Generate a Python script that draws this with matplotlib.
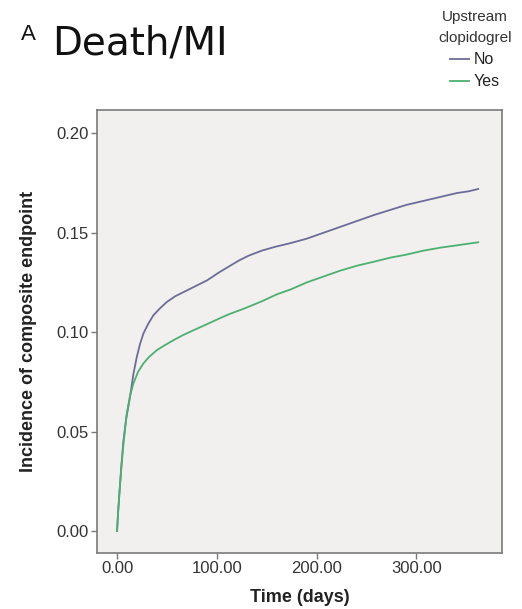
import matplotlib
matplotlib.use('Agg')
import matplotlib.pyplot as plt

# 時間(日)と発生率の読み取り値 (Upstream clopidogrel: No)
days_no = [0, 1, 2.5, 4.5, 6.3, 9, 13, 16.4, 19.8, 23, 26.4, 31, 36.4, 43, 49.9, 58, 70, 80, 90,
           103, 112, 122, 132, 145, 159, 174, 190, 207, 224, 241, 258, 274, 290, 307, 324, 341, 352, 362]
rate_no = [0.0, 0.009, 0.020, 0.034, 0.045, 0.056, 0.0675, 0.079, 0.0876, 0.094, 0.0993, 0.104,
           0.1085, 0.112, 0.1152, 0.118, 0.121, 0.1235, 0.126, 0.1303, 0.133, 0.136, 0.1385, 0.141,
           0.143, 0.1448, 0.147, 0.150, 0.153, 0.156, 0.159, 0.1615, 0.164, 0.166, 0.168, 0.170,
           0.1708, 0.172]

# (Upstream clopidogrel: Yes)
days_yes = [0, 1, 2.5, 4.5, 6.5, 9.7, 13, 16.4, 21, 26.4, 32, 39.9, 48, 56.6, 66, 76.7, 90, 103,
            112, 128, 145, 160, 174, 190, 207, 224, 241, 258, 274, 290, 307, 324, 341, 352, 362]
rate_yes = [0.0, 0.009, 0.020, 0.033, 0.044, 0.059, 0.068, 0.0742, 0.080, 0.0843, 0.0875, 0.091,
            0.0935, 0.096, 0.0985, 0.101, 0.104, 0.107, 0.109, 0.112, 0.1155, 0.119, 0.1215,
            0.125, 0.128, 0.131, 0.1335, 0.1355, 0.1375, 0.139, 0.141, 0.1425, 0.1437, 0.1445, 0.1452]

x_ticks = [0, 100, 200, 300]
y_ticks = [0.00, 0.05, 0.10, 0.15, 0.20]

color_no = '#6c6c98'
color_yes = '#4cb070'
grey = '#7a7a7a'

plt.rcParams['font.family'] = ['Liberation Sans', 'DejaVu Sans']

fig = plt.figure(figsize=(5.22, 6.09), dpi=100)
ax = fig.add_axes([0.186, 0.092, 0.776, 0.727])
ax.set_facecolor('#f1f0ee')

ax.plot(days_no, rate_no, color=color_no, lw=1.3, label='No')
ax.plot(days_yes, rate_yes, color=color_yes, lw=1.3, label='Yes')

ax.set_xlim(-20, 386)
ax.set_ylim(-0.011, 0.2116)
ax.set_xticks(x_ticks)
ax.set_xticklabels(['%.2f' % v for v in x_ticks])
ax.set_yticks(y_ticks)
ax.set_yticklabels(['%.2f' % v for v in y_ticks])

for s in ax.spines.values():
    s.set_color(grey)
    s.set_linewidth(1.2)
ax.tick_params(direction='out', length=4, width=1, color=grey,
               labelsize=12, labelcolor='#333333', pad=2)

ax.set_xlabel('Time (days)', fontsize=13, fontweight='bold', color='#222222', labelpad=9)
ax.set_ylabel('Incidence of composite endpoint', fontsize=13, fontweight='bold',
              color='#222222', labelpad=14)

# タイトル
fig.text(0.040, 0.934, 'A', fontsize=16, color='#111111', va='baseline')
fig.text(0.10, 0.910, 'Death/MI', fontsize=28, family='DejaVu Sans', color='#111111', va='baseline')

# 凡例
leg = ax.legend(title='Upstream\nclopidogrel', loc='upper right', bbox_to_anchor=(1.0, 1.0),
                bbox_transform=fig.transFigure, frameon=False, fontsize=11.5,
                title_fontsize=11, handlelength=1.2, handletextpad=0.3,
                labelspacing=0.45, borderpad=0.15)
leg.get_title().set_linespacing(1.6)
leg.get_title().set_multialignment('center')
leg.get_title().set_color('#333333')
for t in leg.get_texts():
    t.set_color('#222222')

plt.savefig('out.png', dpi=100, facecolor='white')
